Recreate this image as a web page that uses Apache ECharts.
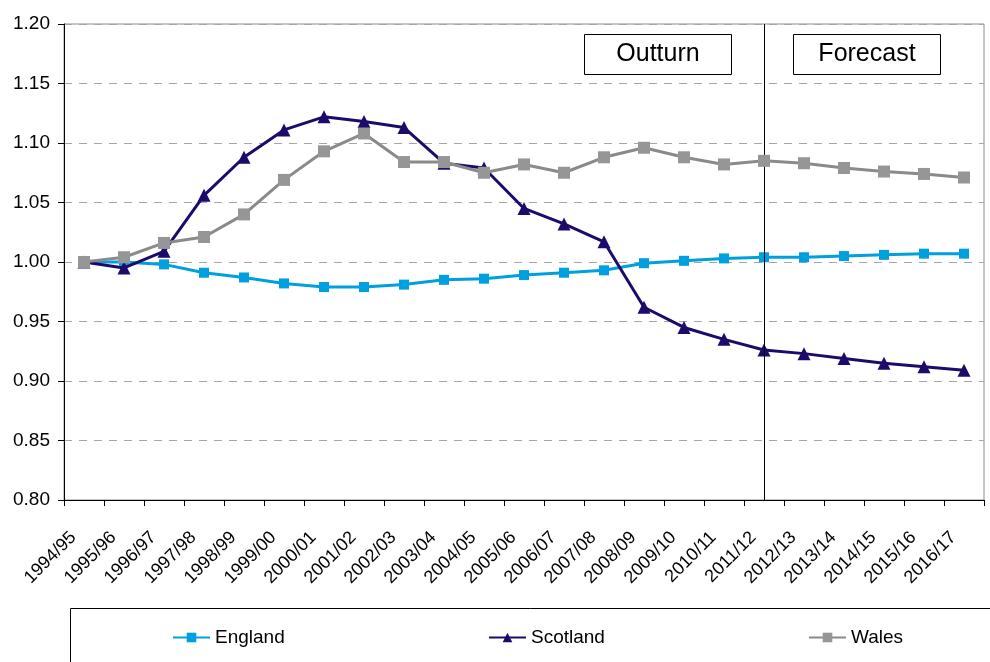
<!DOCTYPE html>
<html>
<head>
<meta charset="utf-8">
<script src="https://cdn.jsdelivr.net/npm/echarts@6/dist/echarts.min.js"></script>
<style>
  html, body { margin: 0; padding: 0; background: #fff; }
  #chart { width: 990px; height: 662px; }
</style>
</head>
<body>
<div id="chart"></div>
<script>
// Financial years on the horizontal axis
const years = ['1994/95', '1995/96', '1996/97', '1997/98', '1998/99', '1999/00', '2000/01',
  '2001/02', '2002/03', '2003/04', '2004/05', '2005/06', '2006/07', '2007/08', '2008/09',
  '2009/10', '2010/11', '2011/12', '2012/13', '2013/14', '2014/15', '2015/16', '2016/17'];

// Index values (1994/95 = 1.00)
const england = [1.000, 1.000, 0.998, 0.991, 0.987, 0.982, 0.979, 0.979, 0.981, 0.985, 0.986,
  0.989, 0.991, 0.993, 0.999, 1.001, 1.003, 1.004, 1.004, 1.005, 1.006, 1.007, 1.007];
const scotland = [1.000, 0.995, 1.009, 1.056, 1.088, 1.111, 1.122, 1.118, 1.113, 1.083, 1.079,
  1.045, 1.032, 1.017, 0.962, 0.945, 0.935, 0.926, 0.923, 0.919, 0.915, 0.912, 0.909];
const wales = [1.000, 1.004, 1.016, 1.021, 1.040, 1.069, 1.093, 1.108, 1.084, 1.084, 1.075,
  1.082, 1.075, 1.088, 1.096, 1.088, 1.082, 1.085, 1.083, 1.079, 1.076, 1.074, 1.071];

// Year at which outturn ends and the forecast begins
const splitYear = '2011/12';

const FONT = '"Liberation Sans", Arial, sans-serif';

const chart = echarts.init(document.getElementById('chart'), null, { renderer: 'canvas' });

function legendAt(name, left) {
  return {
    data: [name],
    left: left,
    top: 628,
    padding: 0,
    itemWidth: 37,
    itemHeight: 12,
    textStyle: { fontFamily: FONT, fontSize: 19, color: '#000' },
    selectedMode: false
  };
}

chart.setOption({
  animation: false,
  backgroundColor: '#fff',
  grid: {
    left: 64, right: 6, top: 24, bottom: 162,
    show: true, borderColor: '#8c8c8c', borderWidth: 1, backgroundColor: 'transparent'
  },
  legend: [legendAt('England', 172), legendAt('Scotland', 488), legendAt('Wales', 808)],
  xAxis: {
    type: 'category',
    data: years,
    boundaryGap: true,
    axisLine: { lineStyle: { color: '#000', width: 1 } },
    axisTick: { show: true, length: 6, lineStyle: { color: '#000' } },
    axisLabel: {
      interval: 0,
      rotate: 45,
      margin: 24,
      padding: [0, 15, 0, 0],
      fontFamily: FONT, fontSize: 18, color: '#000'
    },
    splitLine: { show: false }
  },
  yAxis: {
    type: 'value',
    min: 0.80, max: 1.20, interval: 0.05,
    axisLine: { show: true, lineStyle: { color: '#000', width: 1 } },
    axisTick: { show: true, length: 6, lineStyle: { color: '#000' } },
    axisLabel: {
      margin: 14,
      fontFamily: FONT, fontSize: 19, color: '#000',
      formatter: v => v.toFixed(2)
    },
    splitLine: { show: true, lineStyle: { color: '#a6a6a6', width: 1, type: [8, 7] } }
  },
  series: [
    {
      name: 'England', type: 'line', data: england,
      symbol: 'rect', symbolSize: 10,
      lineStyle: { color: '#00a0de', width: 3 },
      itemStyle: { color: '#00a0de' },
      z: 3,
      markLine: {
        silent: true, symbol: 'none', animation: false,
        label: { show: false },
        lineStyle: { color: '#000', width: 1, type: 'solid' },
        data: [{ xAxis: splitYear }]
      }
    },
    {
      name: 'Scotland', type: 'line', data: scotland,
      symbol: 'triangle', symbolSize: 13,
      lineStyle: { color: '#1e0a6a', width: 3 },
      itemStyle: { color: '#1e0a6a' },
      z: 4
    },
    {
      name: 'Wales', type: 'line', data: wales,
      symbol: 'rect', symbolSize: 12,
      lineStyle: { color: '#8a8a8a', width: 3 },
      itemStyle: { color: '#969696' },
      z: 5
    }
  ],
  graphic: [
    // Period labels above the plot
    {
      type: 'rect', z: 10,
      shape: { x: 584.5, y: 34.5, width: 147, height: 40 },
      style: { fill: '#fff', stroke: '#000', lineWidth: 1 }
    },
    {
      type: 'text', z: 11, x: 658, y: 54,
      style: { text: 'Outturn', fontFamily: FONT, fontSize: 25, fill: '#000', align: 'center', verticalAlign: 'middle' }
    },
    {
      type: 'rect', z: 10,
      shape: { x: 793.5, y: 34.5, width: 147, height: 40 },
      style: { fill: '#fff', stroke: '#000', lineWidth: 1 }
    },
    {
      type: 'text', z: 11, x: 867, y: 54,
      style: { text: 'Forecast', fontFamily: FONT, fontSize: 25, fill: '#000', align: 'center', verticalAlign: 'middle' }
    },
    // Frame around the legend
    {
      type: 'rect', z: 1,
      shape: { x: 70.5, y: 608.5, width: 940, height: 80 },
      style: { fill: 'none', stroke: '#000', lineWidth: 1 }
    }
  ]
});
</script>
</body>
</html>
